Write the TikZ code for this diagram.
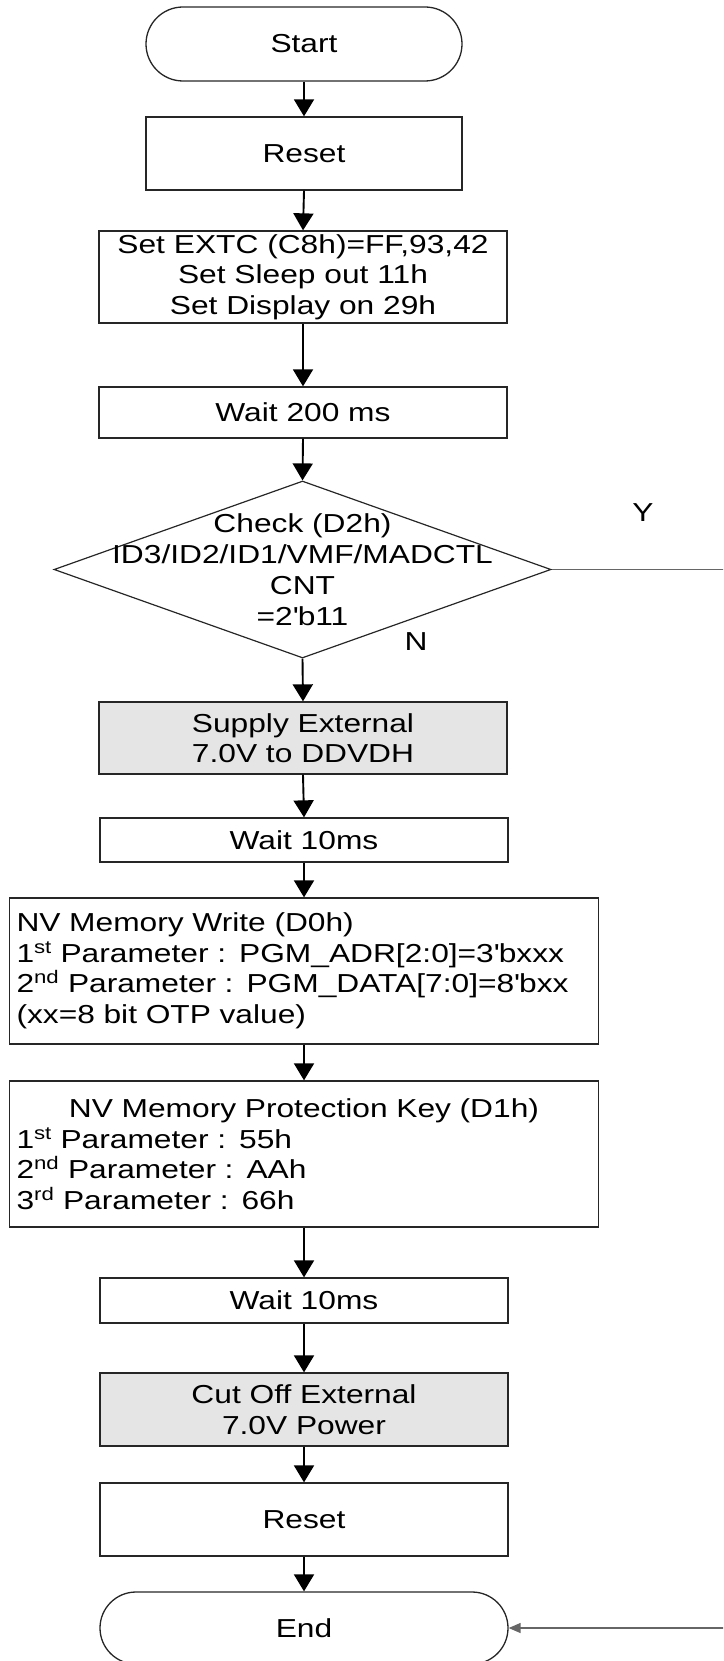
\documentclass[tikz,border=0pt]{standalone}
\usepackage{fontspec}
\setmainfont[FakeStretch=1.22]{Liberation Sans}
\usetikzlibrary{shapes.geometric,arrows.meta}
\newcommand{\sq}{\textquotesingle}
\begin{document}
\begin{tikzpicture}[x=1pt,y=-1pt,
  font=\fontsize{26}{30.5}\selectfont,
  box/.style 2 args={draw=black!85, line width=1.3pt, minimum width=#1, minimum height=#2, inner sep=0pt, align=center},
  term/.style 2 args={box={#1}{#2}, rounded corners=#2/2},
  gbox/.style={fill=black!10},
  lbox/.style={draw=black!85, line width=1.3pt, minimum width=589, minimum height=146, inner xsep=7pt, inner ysep=0pt, text width=575, align=left},
  arr/.style={draw=black, line width=1.9pt, -{Triangle[length=17pt,width=20pt]}},
  yarr/.style={draw=black!60, line width=1.4pt, -{Triangle[length=12pt,width=10pt]}},
  lab/.style={inner sep=0pt}
]
\path[use as bounding box, clip] (0,0) rectangle (723,1661);

\node[term={316}{74}] (start) at (304,44) {Start};
\node[box={316}{73}] (reset1) at (304,153.5) {Reset};
\node[box={408}{92}] (extc) at (303,277) {Set EXTC (C8h)=FF,93,42\\Set Sleep out 11h\\Set Display on 29h};
\node[box={408}{51}] (wait200) at (303,412.5) {Wait 200 ms};
\node[draw=black!85, line width=1.2pt, diamond, minimum width=497, minimum height=177, inner sep=0pt] (dec) at (302.5,569.5) {};
\node[lab, align=center, font=\fontsize{26}{31}\selectfont] (dectxt) at (dec.center) {Check (D2h)\\ID3/ID2/ID1/VMF/MADCTL\\CNT\\=2\sq b11};
\node[lab] (ylab) at (643,513) {Y};
\node[lab] (nlab) at (416,642) {N};
\node[box={408}{72}, gbox] (supply) at (303,738) {Supply External\\7.0V to DDVDH};
\node[box={408}{44}] (wait10a) at (304,840) {Wait 10ms};
\node[lbox] (nvw) at (304,971) {NV Memory Write (D0h)\\
1\textsuperscript{st} Parameter : PGM\_ADR[2:0]=3\sq bxxx\\
2\textsuperscript{nd} Parameter : PGM\_DATA[7:0]=8\sq bxx\\
(xx=8 bit OTP value)};
\node[lbox] (nvp) at (304,1154) {\hspace*{\fill}NV Memory Protection Key (D1h)\hspace*{\fill}\null\\
1\textsuperscript{st} Parameter : 55h\\
2\textsuperscript{nd} Parameter : AAh\\
3\textsuperscript{rd} Parameter : 66h};
\node[box={408}{45}] (wait10b) at (304,1300.5) {Wait 10ms};
\node[box={408}{73}, gbox] (cut) at (304,1409.5) {Cut Off External\\7.0V Power};
\node[box={408}{73}] (reset2) at (304,1519.5) {Reset};
\node[term={408}{72}] (end) at (304,1628) {End};

\draw[arr] (start.south) -- (reset1.north);
\draw[arr] (reset1.south) -- (extc.north);
\draw[arr] (extc.south) -- (wait200.north);
\draw[arr] (wait200.south) -- (dec.north);
\draw[arr] (dec.south) -- (supply.north);
\draw[arr] (supply.south) -- (wait10a.north);
\draw[arr] (wait10a.south) -- (nvw.north);
\draw[arr] (nvw.south) -- (nvp.north);
\draw[arr] (nvp.south) -- (wait10b.north);
\draw[arr] (wait10b.south) -- (cut.north);
\draw[arr] (cut.south) -- (reset2.north);
\draw[arr] (reset2.south) -- (end.north);
\draw[yarr] (dec.east) -- ++(200,0) |- (end.east);
\end{tikzpicture}
\end{document}
